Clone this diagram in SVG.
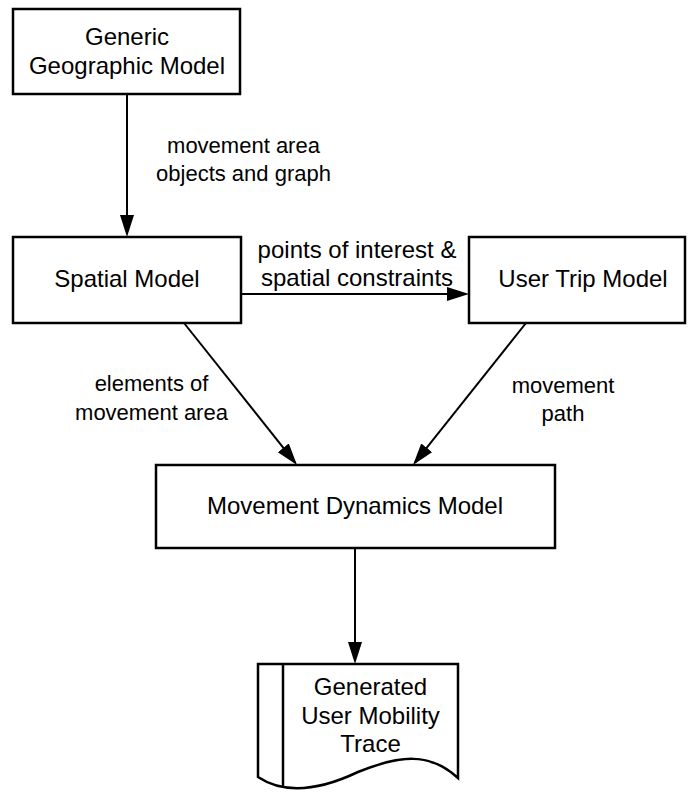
<svg xmlns="http://www.w3.org/2000/svg" width="688" height="794" viewBox="0 0 688 794">
  <style>
    .box { fill: #ffffff; stroke: #000000; stroke-width: 2.5; }
    .name { font-family: "Liberation Sans", Arial, sans-serif; font-size: 24px; fill: #000000; text-anchor: middle; }
    .label { font-family: "Liberation Sans", Arial, sans-serif; font-size: 22px; fill: #000000; text-anchor: middle; }
    .label.wide { font-size: 24px; }
    .link { fill: none; stroke: #000000; stroke-width: 2; marker-end: url(#arrow); }
  </style>
  <defs>
    <marker id="arrow" markerUnits="userSpaceOnUse" markerWidth="24" markerHeight="15" refX="19" refY="7" orient="auto">
      <path d="M0,0 L22,7 L0,14 Z" fill="#000000"/>
    </marker>
  </defs>
  <rect width="688" height="794" fill="#ffffff"/>

  <!-- Nodes -->
  <g id="generic-geographic-model">
    <rect class="box" x="13" y="9" width="227" height="85"/>
    <text class="name" x="127" y="45">Generic</text>
    <text class="name" x="127" y="74">Geographic Model</text>
  </g>
  <g id="spatial-model">
    <rect class="box" x="13" y="237" width="228" height="86"/>
    <text class="name" x="127" y="287">Spatial Model</text>
  </g>
  <g id="user-trip-model">
    <rect class="box" x="469" y="237" width="216" height="86"/>
    <text class="name" x="583" y="287">User Trip Model</text>
  </g>
  <g id="movement-dynamics-model">
    <rect class="box" x="156" y="465" width="399" height="83"/>
    <text class="name" x="355" y="514">Movement Dynamics Model</text>
  </g>
  <g id="user-mobility-trace">
    <path class="box" d="M258,664 H458 V778 C430,752 400,755 358,772 C320,790 285,795 258,777 Z"/>
    <line x1="283" y1="664" x2="283" y2="787" stroke="#000000" stroke-width="2.5"/>
    <text class="name" x="370.5" y="695">Generated</text>
    <text class="name" x="370.5" y="723.5">User Mobility</text>
    <text class="name" x="370.5" y="752">Trace</text>
  </g>

  <!-- Connectors and their labels -->
  <g id="connectors">
    <line class="link" x1="127" y1="94" x2="127" y2="234"/>
    <line class="link" x1="241" y1="294" x2="466" y2="294"/>
    <line class="link" x1="184" y1="323" x2="295.13" y2="462.65"/>
    <line class="link" x1="526" y1="323" x2="414.87" y2="462.65"/>
    <line class="link" x1="355" y1="548" x2="355" y2="661"/>

    <text class="label" x="243.5" y="153">movement area</text>
    <text class="label" x="243.5" y="181">objects and graph</text>
    <text class="label wide" x="357" y="258">points of interest &amp;</text>
    <text class="label wide" x="357" y="286">spatial constraints</text>
    <text class="label" x="151.5" y="391">elements of</text>
    <text class="label" x="151.5" y="420">movement area</text>
    <text class="label" x="563" y="393">movement</text>
    <text class="label" x="563" y="421">path</text>
  </g>
</svg>
